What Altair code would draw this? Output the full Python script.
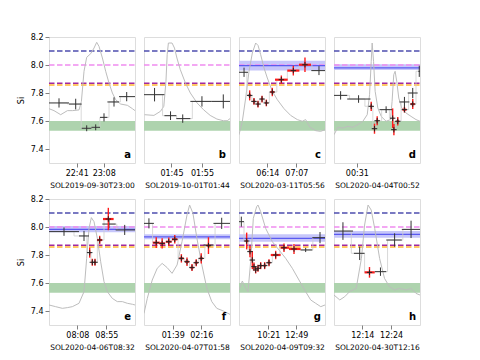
import altair as alt
import pandas as pd

FONT = "DejaVu Sans"
SPINE = "#808080"
W, H = 86, 126
Y_DOMAIN = [7.3, 8.2]
Y_TICKS = [7.4, 7.6, 7.8, 8.0, 8.2]

LETTERS = ["a", "b", "c", "d", "e", "f", "g", "h"]
TITLES = ["SOL2019-09-30T23:00", "SOL2019-10-01T01:44", "SOL2020-03-11T05:56", "SOL2020-04-04T00:52",
          "SOL2020-04-06T08:32", "SOL2020-04-07T01:58", "SOL2020-04-09T09:32", "SOL2020-04-30T12:16"]
# x in minutes after midnight
X_DOMAINS = [[1333.3, 1419.3], [96.0, 124.2], [322.2, 479.4], [-0.5, 117.8],
             [442.1, 581.4], [61.6, 173.4], [466.0, 920.5], [724.2, 754.0]]
X_TICKS = [[1361, 1388], [105, 115], [374, 427], [31], [488, 535], [99, 136], [621, 769], [734, 744]]

GREEN_BAND = [7.53, 7.60]
LEVEL_NAVY = 8.10
LEVEL_VIOLET = 8.00
LEVEL_PURPLE = 7.87
LEVEL_ORANGE = 7.858
# (low, high, centre) of the blue band per panel
BLUE_BANDS = [None, None, (7.96, 8.03, 7.995), (7.965, 8.005, 7.98), (7.962, 8.007, 7.983),
              (7.912, 7.948, 7.929), (7.895, 7.948, 7.919), (7.924, 7.971, 7.948)]

# grey light curves (time, value)
GREY_A_T = [1333.3, 1338.3, 1345, 1351.7, 1356.7, 1363.3, 1365.7, 1368.3, 1371, 1375, 1378.3, 1381, 1383.3, 1386.7, 1390, 1393.3, 1396.7, 1400, 1405, 1411.7, 1416.7, 1419.3]
GREY_A_Y = [7.688, 7.674, 7.645, 7.674, 7.674, 7.679, 7.740, 7.955, 8.055, 8.081, 8.121, 8.162, 8.133, 8.05, 7.955, 7.871, 7.8, 7.752, 7.721, 7.712, 7.688, 7.674]
GREY_B_T = [96.2, 99.25, 101.4, 102.5, 103.2, 103.6, 104.0, 105.2, 106.0, 106.8, 107.9, 109.6, 111.2, 113.4, 115.5, 117.7, 119.9, 122.0, 123.3, 124.2]
GREY_B_Y = [7.645, 7.640, 7.669, 7.705, 7.883, 8.074, 8.157, 8.157, 8.121, 8.05, 7.967, 7.871, 7.8, 7.729, 7.681, 7.640, 7.614, 7.602, 7.602, 7.617]
GREY_C_T = [322.2, 328.3, 334.4, 340.5, 346.6, 352.7, 357.0, 361.8, 367.9, 374, 383.1, 392.3, 404.5, 416.6, 428.8, 437.9, 444.0, 451.9, 462.3, 471.4, 479.4]
GREY_C_Y = [7.502, 7.598, 7.764, 7.955, 8.086, 8.157, 8.140, 8.074, 7.979, 7.907, 7.812, 7.752, 7.688, 7.640, 7.610, 7.598, 7.610, 7.555, 7.531, 7.526, 7.538]
GREY_D_T = [-0.5, 4.95, 11.8, 18.7, 25.5, 32.4, 39.2, 45.2, 48.4, 50.7, 52.0, 53.9, 56.1, 59.8, 64.4, 71.2, 77.2, 79.4, 81.7, 83.6, 85.8, 88.6, 92.7, 98.6, 105.5, 112.3, 117.8]
GREY_D_Y = [7.502, 7.555, 7.55, 7.562, 7.555, 7.574, 7.598, 7.645, 7.788, 8.026, 8.157, 8.026, 7.812, 7.693, 7.633, 7.598, 7.610, 7.740, 7.931, 7.955, 7.883, 7.764, 7.693, 7.657, 7.633, 7.610, 7.598]
GREY_E_T = [442.1, 452.9, 463.7, 471.8, 479.9, 490.7, 498.8, 503.1, 506.9, 510.7, 515.0, 520.4, 525.8, 531.2, 536.6, 544.7, 552.8, 560.9, 569.0, 577.1, 581.4]
GREY_E_Y = [7.443, 7.431, 7.419, 7.424, 7.431, 7.455, 7.538, 7.776, 7.990, 8.067, 8.038, 7.919, 7.752, 7.610, 7.538, 7.490, 7.467, 7.467, 7.455, 7.448, 7.443]
GREY_F_T = [61.6, 65.9, 72.3, 78.8, 85.2, 91.7, 98.1, 104.6, 111.0, 117.5, 120.9, 125.2, 130.4, 136.8, 143.3, 149.7, 156.2, 164.8, 173.4]
GREY_F_Y = [7.383, 7.490, 7.621, 7.705, 7.740, 7.710, 7.669, 7.729, 7.895, 8.086, 8.157, 8.098, 7.919, 7.729, 7.562, 7.467, 7.419, 7.400, 7.376]
GREY_G_T = [466, 483.6, 501.2, 513.5, 527.6, 541.7, 559.3, 566.4, 580.5, 606.9, 642.1, 677.4, 712.6, 747.9, 783.1, 818.3, 844.8, 871.2, 898.1, 920.5]
GREY_G_Y = [7.55, 7.614, 7.562, 7.538, 7.752, 8.062, 8.145, 8.157, 8.110, 7.990, 7.895, 7.836, 7.776, 7.705, 7.621, 7.538, 7.479, 7.455, 7.431, 7.443]
GREY_H_T = [724.2, 726.2, 727.9, 729.6, 731.9, 733.7, 734.8, 736.0, 737.1, 738.3, 740.0, 741.7, 743.4, 745.2, 746.9, 749.2, 750.9, 752.6, 754.0]
GREY_H_Y = [7.514, 7.479, 7.502, 7.538, 7.562, 7.776, 8.014, 8.157, 8.121, 7.990, 7.776, 7.633, 7.574, 7.550, 7.562, 7.550, 7.562, 7.526, 7.514]

# black measurements: (time, time_low, time_high, value, error)
BLACK_A = [(1343.3, 1333.3, 1353.3, 7.729, 0.033), (1360.0, 1353.3, 1366.0, 7.721, 0.038),
           (1371.0, 1366.0, 1375.7, 7.548, 0.021), (1380.0, 1375.7, 1384.3, 7.555, 0.021),
           (1388.3, 1384.3, 1391.7, 7.626, 0.029), (1398.3, 1391.7, 1403.3, 7.736, 0.033),
           (1411.0, 1403.3, 1419.3, 7.774, 0.033)]
BLACK_B = [(99.46, 96.0, 102.7, 7.788, 0.048), (104.7, 102.7, 106.6, 7.638, 0.031),
           (108.7, 106.6, 111.2, 7.617, 0.030), (115.0, 111.2, 118.2, 7.740, 0.037),
           (122.0, 118.2, 124.2, 7.740, 0.050)]
BLACK_C = [(331.4, 322.2, 338.7, 7.948, 0.033), (468.4, 454.4, 479.4, 7.960, 0.032)]
BLACK_D = [(8.6, -0.5, 17.7, 7.783, 0.030), (33.3, 17.7, 49.7, 7.757, 0.027),
           (71.2, 62.1, 80.4, 7.681, 0.024), (96.4, 89.5, 103.2, 7.736, 0.036),
           (107.8, 100.9, 114.6, 7.800, 0.036), (116.8, 115.6, 117.8, 7.955, 0.040)]
BLACK_E = [(466.4, 442.1, 490.7, 7.967, 0.030), (498.8, 490.7, 506.9, 7.936, 0.036),
           (539.3, 528.5, 550.1, 8.021, 0.030), (564.7, 550.1, 581.4, 7.979, 0.036)]
BLACK_F = [(68.0, 61.6, 74.5, 8.026, 0.036), (145.4, 139.0, 151.9, 7.871, 0.020),
           (162.6, 151.9, 173.4, 8.026, 0.040)]
BLACK_G = [(478.3, 466.0, 492.6, 8.038, 0.036), (818.3, 791.9, 853.6, 7.836, 0.015),
           (894.1, 853.6, 920.5, 7.924, 0.040)]
BLACK_H = [(727.3, 724.2, 730.8, 7.971, 0.063), (733.1, 731.1, 734.8, 7.812, 0.048),
           (740.3, 738.3, 742.3, 7.681, 0.030), (745.2, 742.3, 747.7, 7.907, 0.048),
           (750.9, 747.7, 754.0, 7.983, 0.062)]

# red measurements: (time, time_low, time_high, value, error)
RED_A = []
RED_B = []
RED_C = [(341.7, 339.5, 344.0, 7.783, 0.036), (349.6, 347.5, 351.8, 7.740, 0.024),
         (356.9, 354.8, 359.0, 7.721, 0.024), (364.3, 362.2, 366.4, 7.757, 0.024),
         (372.2, 370.0, 374.4, 7.729, 0.024), (383.1, 379.5, 386.7, 7.807, 0.030),
         (399.6, 388.0, 411.2, 7.895, 0.030), (421.5, 410.5, 432.5, 7.960, 0.035),
         (442.8, 431.8, 453.8, 8.002, 0.052)]
RED_D = [(50.7, 49.5, 51.9, 7.705, 0.033), (55.2, 54.3, 56.1, 7.545, 0.036),
         (58.9, 57.5, 60.3, 7.602, 0.032), (80.2, 79.4, 81.0, 7.620, 0.070),
         (81.9, 81.0, 82.8, 7.538, 0.040), (87.2, 85.4, 89.0, 7.598, 0.030),
         (96.4, 93.7, 99.1, 7.681, 0.020), (107.8, 105.0, 110.6, 7.721, 0.036)]
RED_E = [(508.0, 506.9, 509.1, 7.817, 0.036), (512.3, 511.2, 513.4, 7.748, 0.025),
         (516.6, 515.5, 517.7, 7.748, 0.025), (524.2, 520.2, 528.2, 7.907, 0.030),
         (538.2, 529.6, 546.8, 8.057, 0.080)]
RED_F = [(77.5, 73.0, 82.0, 7.888, 0.038), (85.2, 81.5, 89.0, 7.883, 0.036),
         (93.8, 90.0, 97.5, 7.895, 0.030), (101.6, 98.0, 105.0, 7.912, 0.030),
         (110.2, 107.5, 113.0, 7.776, 0.030), (117.5, 115.0, 120.0, 7.752, 0.030),
         (124.0, 122.0, 126.0, 7.710, 0.025), (129.5, 127.5, 131.5, 7.745, 0.025),
         (136.0, 134.0, 138.0, 7.776, 0.036), (145.4, 143.0, 147.8, 7.867, 0.060)]
RED_G = [(506.5, 500.0, 513.0, 7.900, 0.060), (524.1, 520.0, 528.0, 7.824, 0.040),
         (536.4, 533.0, 540.0, 7.764, 0.065), (545.2, 542.0, 548.5, 7.717, 0.030),
         (554.0, 551.0, 557.0, 7.693, 0.025), (566.4, 562.0, 571.0, 7.705, 0.025),
         (580.5, 575.0, 586.0, 7.724, 0.025), (601.6, 595.0, 608.0, 7.724, 0.025),
         (624.5, 617.0, 632.0, 7.745, 0.025), (659.8, 633.8, 686.0, 7.800, 0.030),
         (703.8, 686.0, 730.0, 7.852, 0.030), (756.7, 730.0, 791.9, 7.843, 0.036)]
RED_H = [(736.5, 734.8, 738.3, 7.676, 0.038)]

GREYS = [(GREY_A_T, GREY_A_Y), (GREY_B_T, GREY_B_Y), (GREY_C_T, GREY_C_Y), (GREY_D_T, GREY_D_Y),
         (GREY_E_T, GREY_E_Y), (GREY_F_T, GREY_F_Y), (GREY_G_T, GREY_G_Y), (GREY_H_T, GREY_H_Y)]
BLACKS = [BLACK_A, BLACK_B, BLACK_C, BLACK_D, BLACK_E, BLACK_F, BLACK_G, BLACK_H]
REDS = [RED_A, RED_B, RED_C, RED_D, RED_E, RED_F, RED_G, RED_H]

TIME_EXPR = ("format(floor((((datum.value % 1440) + 1440) % 1440) / 60), '02d') + ':' + "
             "format(round(((datum.value % 1440) + 1440) % 1440) % 60, '02d')")


def meas_frame(rows):
    df = pd.DataFrame(rows, columns=["t", "lo", "hi", "y", "e"])
    df["ylo"] = df["y"] - df["e"]
    df["yhi"] = df["y"] + df["e"]
    return df


def panel(i, show_y):
    xs = alt.Scale(domain=X_DOMAINS[i], nice=False, zero=False)
    xaxis = alt.Axis(values=X_TICKS[i], labelExpr=TIME_EXPR, title=TITLES[i], grid=False,
                     domain=False, tickColor=SPINE, tickSize=4, tickWidth=1,
                     labelFontSize=8, labelPadding=2, labelColor="black", labelFont=FONT,
                     titleFontSize=7.5, titleFontWeight="normal", titlePadding=4,
                     titleColor="black", titleFont=FONT)
    ys = alt.Scale(domain=Y_DOMAIN, nice=False, zero=False)
    if show_y:
        yaxis = alt.Axis(values=Y_TICKS, format=".1f", title="Si", grid=False, domain=False,
                         tickColor=SPINE, tickSize=4, tickWidth=1, labelFontSize=8,
                         labelPadding=2, labelColor="black", labelFont=FONT,
                         titleFontSize=8, titleFontWeight="normal", titlePadding=5,
                         titleColor="black", titleFont=FONT)
    else:
        yaxis = None

    def X(f):
        return alt.X(f, type="quantitative", scale=xs, axis=xaxis)

    def Y(f):
        return alt.Y(f, type="quantitative", scale=ys, axis=yaxis)

    layers = []
    green = pd.DataFrame({"lo": [GREEN_BAND[0]], "hi": [GREEN_BAND[1]]})
    layers.append(alt.Chart(green).mark_rect(color="#aed3ae").encode(
        y=Y("lo"), y2="hi", x=alt.value(0), x2=alt.value(W)))
    if BLUE_BANDS[i] is not None:
        b = BLUE_BANDS[i]
        bdf = pd.DataFrame({"lo": [b[0]], "hi": [b[1]], "c": [b[2]]})
        layers.append(alt.Chart(bdf).mark_rect(color="#c6c6fa").encode(
            y=Y("lo"), y2="hi", x=alt.value(0), x2=alt.value(W)))

    levels = pd.DataFrame({"y": [LEVEL_NAVY, LEVEL_VIOLET, LEVEL_ORANGE, LEVEL_PURPLE],
                           "c": ["#4d4dae", "#f08cf0", "#ffb733", "#a02aa0"],
                           "k": [0, 1, 2, 3]})
    layers.append(alt.Chart(levels).mark_rule(strokeWidth=1.5, strokeDash=[5.5, 2.5]).encode(
        y=Y("y"), color=alt.Color("c:N", scale=None), x=alt.value(0), x2=alt.value(W),
        order="k:Q"))
    if BLUE_BANDS[i] is not None:
        layers.append(alt.Chart(bdf).mark_rule(color="#5a5af0", strokeWidth=1.3).encode(
            y=Y("c"), x=alt.value(0), x2=alt.value(W)))

    gt, gy = GREYS[i]
    gdf = pd.DataFrame({"t": gt, "y": gy})
    layers.append(alt.Chart(gdf).mark_line(color="#bdbdbd", strokeWidth=1, clip=True).encode(
        x=X("t"), y=Y("y"), order="t:Q"))

    bdfm = meas_frame(BLACKS[i])
    rows_all = BLACKS[i] + REDS[i]
    sdf = pd.DataFrame(sorted(rows_all), columns=["t", "lo", "hi", "y", "e"])
    layers.append(alt.Chart(sdf).mark_line(interpolate="step", color="#cfcfcf", strokeWidth=0.8,
                                           clip=True).encode(x=X("t"), y=Y("y"), order="t:Q"))
    layers.append(alt.Chart(bdfm).mark_rule(color="#333333", strokeWidth=1, clip=True).encode(
        x=X("lo"), x2="hi", y=Y("y")))
    layers.append(alt.Chart(bdfm).mark_rule(color="#333333", strokeWidth=1, clip=True).encode(
        x=X("t"), y=Y("ylo"), y2="yhi"))

    if REDS[i]:
        rdf = meas_frame(REDS[i])
        layers.append(alt.Chart(rdf).mark_rule(color="#ff1a1a", strokeWidth=2.2, clip=True).encode(
            x=X("lo"), x2="hi", y=Y("y")))
        layers.append(alt.Chart(rdf).mark_rule(color="#ff1a1a", strokeWidth=1.4, clip=True).encode(
            x=X("t"), y=Y("ylo"), y2="yhi"))
        layers.append(alt.Chart(rdf).mark_point(shape="M-1,0L1,0M0,-1L0,1", size=30, filled=False,
                                                stroke="#222222", strokeWidth=1, opacity=1,
                                                clip=True).encode(x=X("t"), y=Y("y")))

    ldf = pd.DataFrame({"l": [LETTERS[i]]})
    layers.append(alt.Chart(ldf).mark_text(align="right", baseline="bottom", fontSize=10,
                                           fontWeight="bold", font=FONT, color="black").encode(
        text="l:N", x=alt.value(W - 4), y=alt.value(H - 3)))

    return alt.layer(*layers).properties(width=W, height=H)


panels = [panel(i, i in (0, 4)) for i in range(8)]
chart = alt.concat(*panels, columns=4, spacing={"row": 36, "column": 9}, bounds="flush").properties(
    padding={"left": 8, "top": 24, "right": 5, "bottom": 5}
).configure_view(stroke=SPINE, strokeWidth=2).configure(font=FONT)

chart.save("out.html", embed_options={"renderer": "svg", "actions": False})
